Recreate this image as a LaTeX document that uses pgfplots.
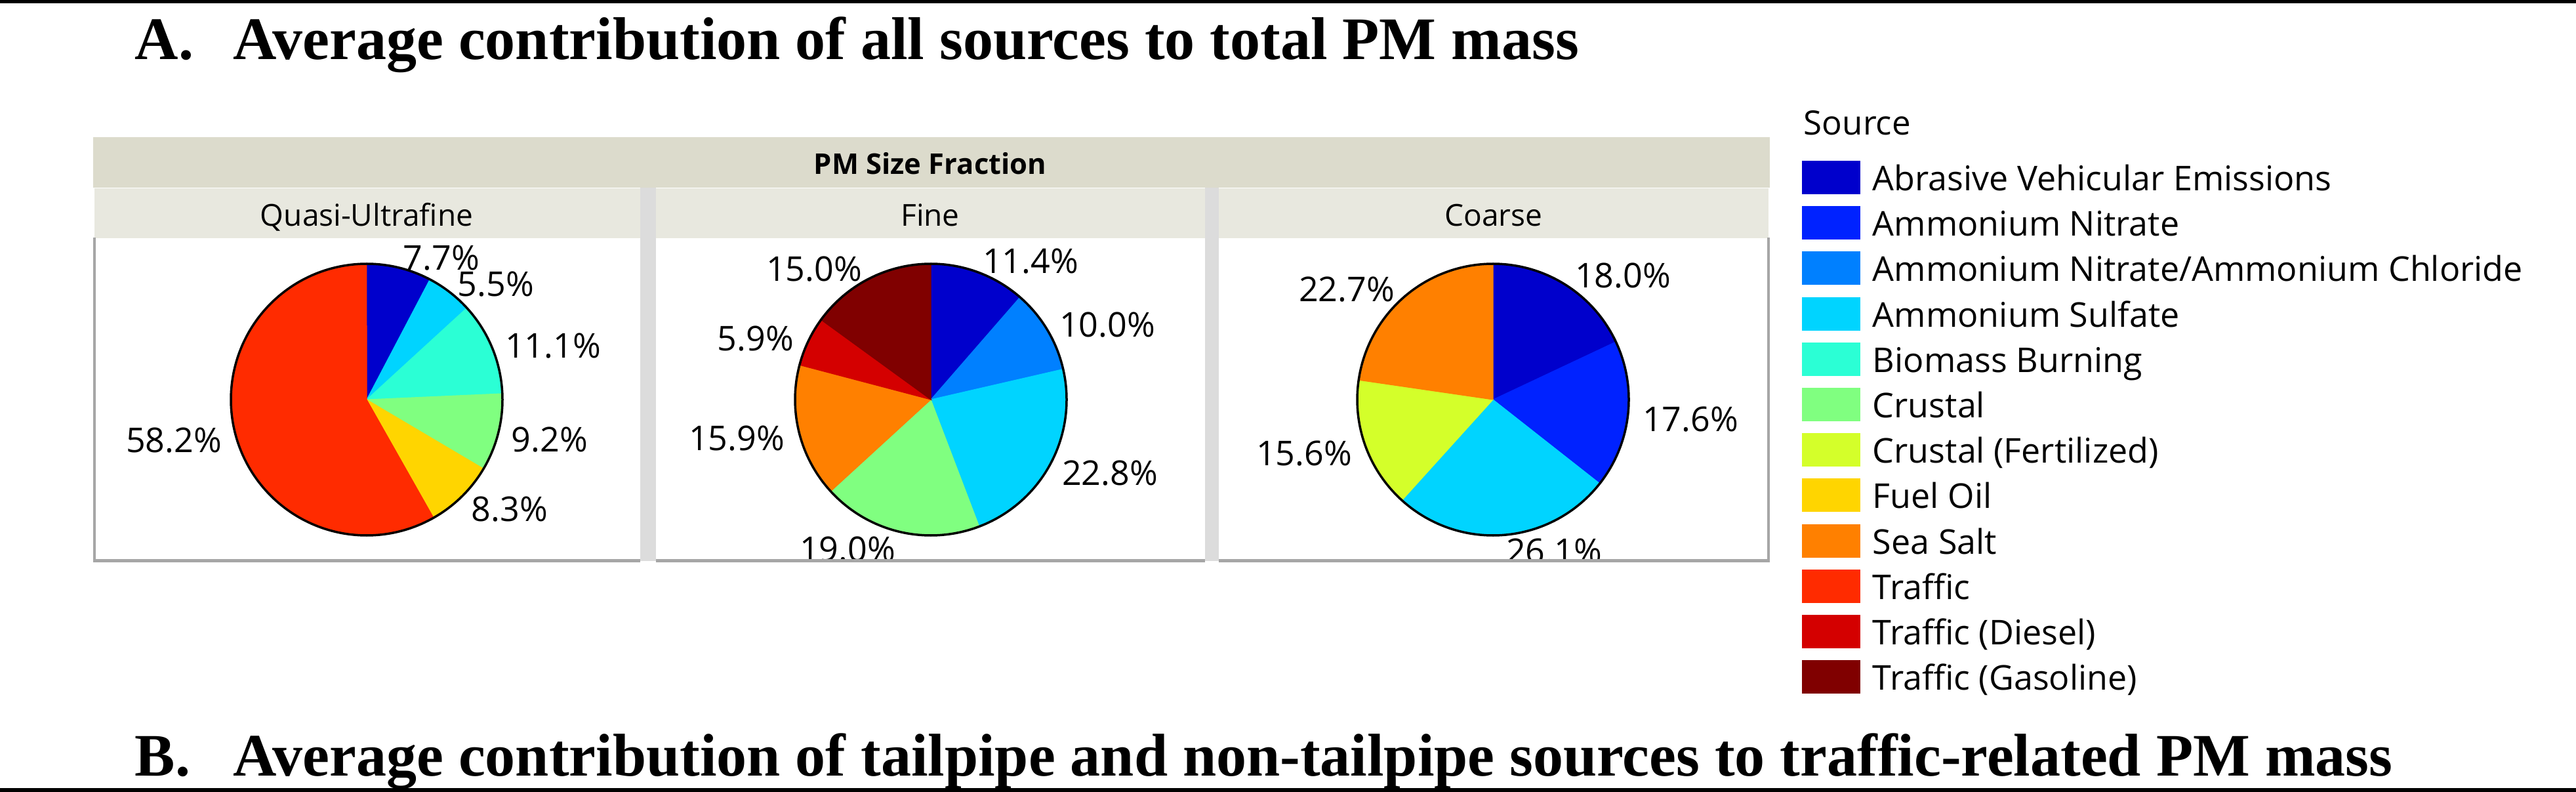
\documentclass[border=0pt]{standalone}
\usepackage{fontspec}
\setmainfont{Open Sans}
\newfontfamily\tnr{Liberation Serif}
\usepackage{pgfplots}
\usepackage{pgfplotstable}
\pgfplotsset{compat=1.18}

% source colours (legend order)
\definecolor{cAbr}{HTML}{0000CC}
\definecolor{cNit}{HTML}{0022FF}
\definecolor{cNCl}{HTML}{0080FF}
\definecolor{cSul}{HTML}{00D4FF}
\definecolor{cBio}{HTML}{2BFFD5}
\definecolor{cCru}{HTML}{80FF80}
\definecolor{cFer}{HTML}{D4FF2A}
\definecolor{cOil}{HTML}{FFD500}
\definecolor{cSea}{HTML}{FF8000}
\definecolor{cTra}{HTML}{FF2B00}
\definecolor{cDie}{HTML}{D40000}
\definecolor{cGas}{HTML}{800000}
\definecolor{band}{HTML}{DCDBCC}
\definecolor{subband}{HTML}{E8E8DF}
\definecolor{gapgray}{HTML}{DCDCDC}
\definecolor{bordergray}{HTML}{A6A6A6}

% share [%], colour, label position (px)
\pgfplotstableread{
share col lx ly
7.7  cAbr 673 393
5.5  cSul 756 433
11.1 cBio 843 527
9.2  cCru 838 670
8.3  cOil 777 776
58.2 cTra 265 671
}\quasi

\pgfplotstableread{
share col lx ly
11.4 cAbr 1571 398
10.0 cNCl 1688 495
22.8 cSul 1692 721
19.0 cCru 1292 837
15.9 cSea 1123 668
5.9  cDie 1152 516
15.0 cGas 1241 410
}\fine

\pgfplotstableread{
share col lx ly
18.0 cAbr 2474 420
17.6 cNit 2577 639
26.1 cSul 2369 840
15.6 cFer 1988 691
22.7 cSea 2053 441
}\coarse

\newcommand\pie[3]{%
  \pgfplotstablegetrowsof{#1}%
  \pgfmathtruncatemacro\lastrow{\pgfplotsretval-1}%
  \def\cum{0}%
  \pgfplotsforeachungrouped \i in {0,...,\lastrow}{%
    \pgfplotstablegetelem{\i}{share}\of{#1}\let\share\pgfplotsretval
    \pgfplotstablegetelem{\i}{col}\of{#1}\let\col\pgfplotsretval
    \pgfmathsetmacro\ta{3.6*\cum}%
    \pgfmathsetmacro\tb{3.6*(\cum+\share)}%
    \edef\slice{\noexpand\addplot[draw=\col,line width=0.1bp,fill=\col,domain=\ta:\tb,samples=90]
      ({#2+207*sin(x)},{#3-207*cos(x)}) -- (#2,#3) -- cycle;}%
    \slice
    \pgfmathsetmacro\cum{\cum+\share}%
  }%
  \addplot[black,line width=0.35bp,domain=0:360,samples=241] ({#2+207*sin(x)},{#3-207*cos(x)});
}

\newcommand\pielabels[1]{%
  \pgfplotstablegetrowsof{#1}%
  \pgfmathtruncatemacro\lastrow{\pgfplotsretval-1}%
  \pgfplotsforeachungrouped \i in {0,...,\lastrow}{%
    \pgfplotstablegetelem{\i}{share}\of{#1}\let\share\pgfplotsretval
    \pgfplotstablegetelem{\i}{lx}\of{#1}\let\lx\pgfplotsretval
    \pgfplotstablegetelem{\i}{ly}\of{#1}\let\ly\pgfplotsretval
    \edef\lab{\noexpand\node[pct] at (\lx,\ly) {\share\noexpand\%};}%
    \lab
  }%
}

\tikzset{
  px/.style={x=0.1bp,y=-0.1bp,yshift=120.7bp},
  pct/.style={inner sep=0,anchor=center,font=\fontsize{5.2bp}{6bp}\selectfont},
  ttl/.style={inner sep=0,anchor=base west,font=\tnr\fontsize{9.2bp}{10bp}\selectfont\bfseries},
}

\begin{document}
\begin{tikzpicture}
\useasboundingbox (0,0) rectangle (392.7bp,120.7bp);

% panel backgrounds
\begin{scope}[px]
  \fill[band] (142,209) rectangle (2698,286);
  \fill[subband] (144,287) rectangle (976,363);
  \fill[subband] (1000,287) rectangle (1837,363);
  \fill[subband] (1858,287) rectangle (2696,363);
  \fill[gapgray] (976,286) rectangle (1000,855);
  \fill[gapgray] (1837,286) rectangle (1858,855);
  \node[inner sep=0,anchor=base,font=\fontsize{4.35bp}{5bp}\selectfont\bfseries] at (1418,266) {PM Size Fraction};
  \node[inner sep=0,anchor=base,font=\fontsize{4.6bp}{5bp}\selectfont] at (559,345) {Quasi-Ultrafine};
  \node[inner sep=0,anchor=base,font=\fontsize{4.6bp}{5bp}\selectfont] at (1418,345) {Fine};
  \node[inner sep=0,anchor=base,font=\fontsize{4.6bp}{5bp}\selectfont] at (2277,345) {Coarse};
\end{scope}

\begin{axis}[
    width=392.7bp, height=120.7bp, scale only axis,
    xmin=0, xmax=3927, ymin=0, ymax=1207,
    y dir=reverse,
    hide axis,
    clip=false,
]
\pie{\quasi}{559}{609}
\pie{\fine}{1419}{609}
\pie{\coarse}{2276}{609}
\pielabels{\quasi}
\pielabels{\fine}
\pielabels{\coarse}
\end{axis}

\begin{scope}[px]
  % labels are cut at the panel bottom
  \fill[white] (130,856) rectangle (2710,1110);
  \fill[bordergray] (142,362) rectangle (146,857);
  \fill[bordergray] (2694,362) rectangle (2698,857);
  \fill[bordergray] (142,852) rectangle (976,857);
  \fill[bordergray] (1000,852) rectangle (1837,857);
  \fill[bordergray] (1858,852) rectangle (2698,857);

  % legend
  \node[inner sep=0,anchor=base west,font=\fontsize{5.1bp}{6bp}\selectfont] at (2748,206) {Source};
  \foreach \name/\col [count=\k from 0] in {
      Abrasive Vehicular Emissions/cAbr,
      Ammonium Nitrate/cNit,
      Ammonium Nitrate\slash Ammonium Chloride/cNCl,
      Ammonium Sulfate/cSul,
      Biomass Burning/cBio,
      Crustal/cCru,
      Crustal (Fertilized)/cFer,
      Fuel Oil/cOil,
      Sea Salt/cSea,
      Traffic/cTra,
      Traffic (Diesel)/cDie,
      Traffic (Gasoline)/cGas} {
    \pgfmathsetmacro\yc{270.5+69.2*\k}
    \fill[\col] (2747,\yc-25.5) rectangle (2836,\yc+25.5);
    \node[inner sep=0,anchor=base west,font=\fontsize{5.2bp}{6bp}\selectfont] at (2853,\yc+20) {\name};
  }

  % section titles and rules
  \fill[black] (0,0) rectangle (3927,5);
  \fill[black] (0,1201) rectangle (3927,1207);
  \node[ttl] at (204,91) {A.};
  \node[ttl] at (354,91) {Average contribution of all sources to total PM mass};
  \node[ttl] at (204,1183) {B.};
  \node[ttl] at (354,1183) {Average contribution of tailpipe and non-tailpipe sources to traffic-related PM mass};
\end{scope}
\end{tikzpicture}
\end{document}
